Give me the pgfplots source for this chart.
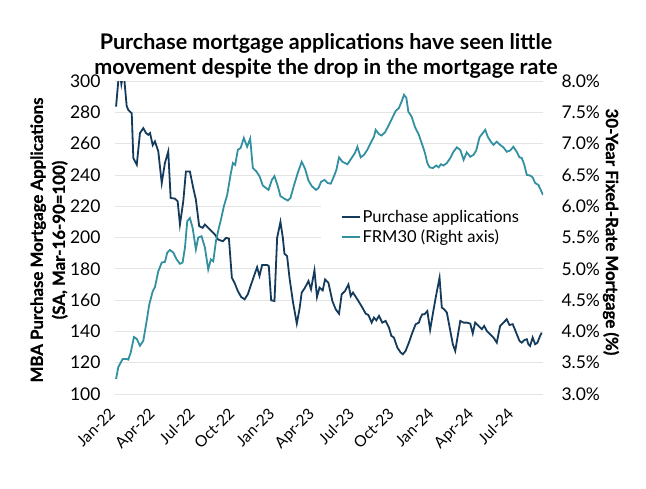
\documentclass[border=0pt]{standalone}
\usepackage{fontspec}
\setmainfont{Lato}
\newfontfamily\labelfont{Lato}[BoldFeatures={FakeBold=0.8}]
\usepackage{pgfplots}
\pgfplotsset{compat=1.18}

\definecolor{purchnavy}{HTML}{143A5C}
\definecolor{rateteal}{HTML}{3290A1}
\definecolor{gridgray}{HTML}{E4E4E4}

% x values are months since January 2022 (weekly observations)
\pgfplotstableread{
x y
-0.15 283.6
0.10 308
0.25 298
0.42 306
0.65 284
0.77 281.5
1.03 279.4
1.15 250.8
1.41 246.5
1.65 266.7
1.90 269.9
2.10 266.8
2.28 265.6
2.41 266.7
2.61 259
2.78 261.4
3.03 255
3.29 234.8
3.53 247.6
3.78 255
3.96 225.3
4.29 224.8
4.49 223.1
4.66 208.3
4.91 223
5.11 242.2
5.41 242.2
5.66 231.7
5.86 224.2
6.11 207.2
6.37 206.2
6.54 208.3
6.92 205
7.29 201.9
7.54 198.7
7.89 197.6
8.14 199.8
8.35 199.3
8.57 174.3
8.77 171.1
9.02 165.8
9.27 162
9.53 160.5
9.77 163.7
10.02 170
10.28 176.4
10.47 181
10.65 175.4
10.85 182.4
11.23 182.4
11.35 181.8
11.53 159.9
11.78 159.4
11.98 199.8
12.23 210
12.41 199.8
12.53 189.6
12.73 188.1
12.91 174.3
13.16 159.4
13.46 145
13.66 154.1
13.83 164.8
14.08 168
14.34 172.2
14.53 166.9
14.79 179
14.98 162
15.17 168
15.41 166.2
15.59 173.2
15.84 171.1
16.14 159.4
16.39 154.1
16.64 151.3
16.84 163.7
17.09 165.8
17.35 170
17.52 162.6
17.69 164.8
18.02 160.5
18.40 155.2
18.65 151.3
18.85 150.5
19.10 145.6
19.27 148.8
19.45 147.1
19.65 149.9
19.77 147.8
19.90 145.6
20.15 146.7
20.40 142.5
20.58 137.1
20.77 136.1
21.03 129.7
21.28 126.5
21.45 125.4
21.65 127.5
21.90 132.8
22.16 139.2
22.41 144.6
22.65 145.6
22.78 148.8
22.91 150.9
23.08 151
23.29 153
23.50 141
23.72 152
23.95 163
24.21 174.3
24.38 155.2
24.56 154.1
24.76 152
25.02 140.3
25.21 131.8
25.39 127.5
25.56 136.1
25.77 146.7
26.02 145.6
26.26 145.6
26.52 145
26.71 138.7
26.89 145.6
27.14 143.5
27.39 141.4
27.57 143.5
27.77 140.3
28.02 138.2
28.27 136.1
28.52 132.8
28.77 143.5
29.02 145.6
29.27 147.8
29.47 144.1
29.72 144.6
29.98 139.2
30.23 133.9
30.40 132.8
30.58 134.4
30.78 135
30.90 131.8
31.03 130.7
31.22 136.1
31.41 131.8
31.58 132.8
31.78 137.1
31.90 139.2
}\purchase

\pgfplotstableread{
x y
-0.15 3.24
0.02 3.43
0.35 3.56
0.65 3.56
0.77 3.55
0.95 3.66
1.20 3.91
1.41 3.88
1.65 3.77
1.90 3.85
2.11 4.11
2.35 4.43
2.61 4.64
2.78 4.71
3.03 4.96
3.29 5.10
3.53 5.11
3.71 5.26
3.91 5.30
4.16 5.26
4.41 5.15
4.66 5.08
4.86 5.10
5.04 5.34
5.21 5.76
5.41 5.81
5.62 5.65
5.86 5.31
6.04 5.50
6.29 5.52
6.54 5.34
6.79 4.99
6.99 5.15
7.17 5.12
7.37 5.44
7.62 5.68
7.72 5.76
7.97 6.00
8.22 6.18
8.47 6.50
8.65 6.69
8.82 6.66
9.02 6.90
9.23 6.93
9.47 7.09
9.72 6.95
9.95 7.08
10.15 6.61
10.40 6.56
10.65 6.48
10.90 6.33
11.33 6.26
11.58 6.42
11.78 6.48
12.03 6.32
12.23 6.16
12.53 6.12
12.78 6.09
12.98 6.13
13.23 6.32
13.53 6.53
13.83 6.71
14.08 6.60
14.34 6.41
14.59 6.32
14.91 6.26
15.09 6.29
15.29 6.39
15.54 6.42
15.79 6.37
16.02 6.36
16.26 6.48
16.44 6.58
16.64 6.78
16.89 6.71
17.27 6.67
17.59 6.77
17.84 6.85
18.02 6.95
18.27 6.78
18.52 6.82
18.77 6.90
19.02 7.01
19.27 7.11
19.40 7.22
19.65 7.15
19.85 7.13
20.10 7.18
20.40 7.30
20.65 7.41
20.90 7.52
21.15 7.57
21.35 7.67
21.53 7.78
21.71 7.73
21.86 7.51
22.11 7.43
22.35 7.27
22.65 7.14
22.91 6.98
23.11 6.85
23.29 6.69
23.46 6.62
23.71 6.61
23.96 6.65
24.14 6.62
24.31 6.67
24.51 6.65
24.76 6.69
25.02 6.77
25.26 6.87
25.51 6.94
25.77 6.90
26.02 6.74
26.26 6.86
26.52 6.79
26.77 6.82
26.97 6.89
27.22 7.10
27.47 7.17
27.65 7.22
27.84 7.11
28.07 7.03
28.27 6.98
28.52 7.03
28.77 6.98
29.02 6.94
29.27 6.87
29.53 6.89
29.77 6.95
30.02 6.87
30.23 6.78
30.40 6.77
30.58 6.67
30.78 6.50
31.03 6.49
31.22 6.46
31.41 6.37
31.65 6.34
31.83 6.26
32.00 6.18
}\frmrate

\pgfplotsset{
  common/.style={
    at={(115pt,94pt)}, anchor=south west,
    scale only axis, width=428pt, height=313pt,
    xmin=-0.23, xmax=32.0,
    axis line style={draw=none},
    major tick length=0pt,
    /pgf/number format/assume math mode=true,
    tick label style={font=\fontsize{17.5}{17.5}\selectfont, text=black},
  },
}

\begin{document}
\begin{tikzpicture}
\useasboundingbox (0,0) rectangle (646pt,488pt);

\begin{axis}[common,
  ymin=100, ymax=300, ytick={100,120,...,300},
  ymajorgrids, grid style={gridgray, line width=0.8pt},
  yticklabel style={xshift=-11pt},
  xtick={0,3,...,30},
  xticklabels={Jan-22,Apr-22,Jul-22,Oct-22,Jan-23,Apr-23,Jul-23,Oct-23,Jan-24,Apr-24,Jul-24},
  xticklabel style={xshift=-10pt, yshift=-8pt, rotate=45, anchor=north east,
    font=\fontsize{15.5}{15.5}\selectfont},
]
  % blank legend area
  \fill[white] (axis cs:15.25,229) rectangle (axis cs:32.0,191);
  \addplot[purchnavy, line width=1.8pt] table {\purchase};
\end{axis}

\begin{axis}[common,
  ymin=3, ymax=8, ytick={3,3.5,4,4.5,5,5.5,6,6.5,7,7.5,8},
  axis x line=none,
  yticklabel pos=right,
  yticklabel style={xshift=15pt},
  yticklabel={\pgfmathprintnumber[fixed,fixed zerofill,precision=1]{\tick}\%},
  legend cell align=left,
  legend image code/.code={\draw[#1, line width=1.8pt] (0pt,0pt) -- (18pt,0pt);},
  legend style={at={(axis description cs:0.52,0.60)}, anchor=north west,
    draw=none, fill=none, font=\fontsize{16.5}{20}\selectfont,
    row sep=2pt},
]
  \addlegendimage{purchnavy}
  \addlegendentry{Purchase applications}
  \addplot[rateteal, line width=1.8pt] table {\frmrate};
  \addlegendentry{FRM30 (Right axis)}
\end{axis}

% axis titles
\node[rotate=90, align=center, font=\labelfont\bfseries\fontsize{16.8}{22}\selectfont]
  at (49pt,248pt) {MBA Purchase Mortgage Applications\\(SA, Mar-16-90=100)};
\node[rotate=-90, font=\labelfont\bfseries\fontsize{16.8}{22}\selectfont]
  at (611pt,256pt) {30-Year Fixed-Rate Mortgage (\%)};

% chart title
\node[anchor=base, font=\bfseries\fontsize{21.5}{25}\selectfont] at (326pt,438pt)
  {Purchase mortgage applications have seen little};
\node[anchor=base, font=\bfseries\fontsize{21.5}{25}\selectfont] at (326pt,413pt)
  {movement despite the drop in the mortgage rate};
\end{tikzpicture}
\end{document}
